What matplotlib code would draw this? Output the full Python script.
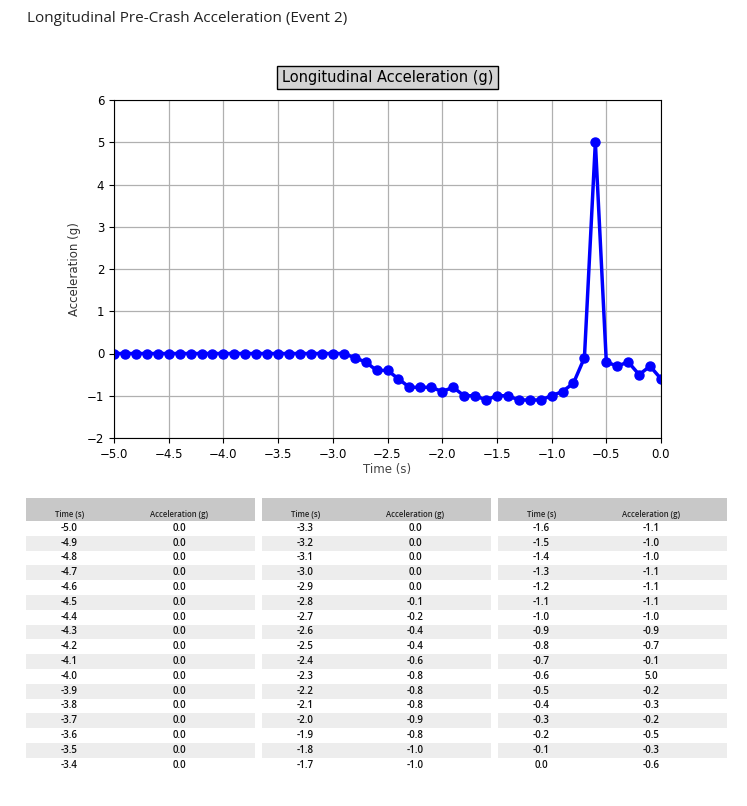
import matplotlib.pyplot as plt
from matplotlib.patches import Rectangle

time_s = [-5.0, -4.9, -4.8, -4.7, -4.6, -4.5, -4.4, -4.3, -4.2, -4.1, -4.0,
          -3.9, -3.8, -3.7, -3.6, -3.5, -3.4, -3.3, -3.2, -3.1, -3.0, -2.9,
          -2.8, -2.7, -2.6, -2.5, -2.4, -2.3, -2.2, -2.1, -2.0, -1.9, -1.8,
          -1.7, -1.6, -1.5, -1.4, -1.3, -1.2, -1.1, -1.0, -0.9, -0.8, -0.7,
          -0.6, -0.5, -0.4, -0.3, -0.2, -0.1, 0.0]
accel_g = [0.0, 0.0, 0.0, 0.0, 0.0, 0.0, 0.0, 0.0, 0.0, 0.0, 0.0,
           0.0, 0.0, 0.0, 0.0, 0.0, 0.0, 0.0, 0.0, 0.0, 0.0, 0.0,
           -0.1, -0.2, -0.4, -0.4, -0.6, -0.8, -0.8, -0.8, -0.9, -0.8, -1.0,
           -1.0, -1.1, -1.0, -1.0, -1.1, -1.1, -1.1, -1.0, -0.9, -0.7, -0.1,
           5.0, -0.2, -0.3, -0.2, -0.5, -0.3, -0.6]
col_headers = ["Time (s)", "Acceleration (g)"]
rows_per_table = 17

W, H = 747, 806
fig = plt.figure(figsize=(W / 100, H / 100), dpi=100)

# page overlay in pixel coords
page = fig.add_axes([0, 0, 1, 1])
page.set_xlim(0, W)
page.set_ylim(H, 0)
page.axis('off')
page.text(27, 18, "Longitudinal Pre-Crash Acceleration (Event 2)", fontsize=11,
          family='Open Sans', color='#222222', va='center', ha='left')

# chart
ax = fig.add_axes([114 / W, 1 - 438 / H, (661 - 114) / W, (438 - 100) / H])
ax.plot(time_s, accel_g, color='blue', linewidth=2.5, marker='o', markersize=6.5)
ax.set_xlim(-5.0, 0.0)
ax.set_ylim(-2, 6)
ax.set_xticks([-5.0, -4.5, -4.0, -3.5, -3.0, -2.5, -2.0, -1.5, -1.0, -0.5, 0.0])
ax.set_yticks(range(-2, 7))
ax.tick_params(labelsize=8.5)
ax.grid(True, color='#b0b0b0', linewidth=0.9)
ax.set_axisbelow(True)
ax.set_xlabel("Time (s)", fontsize=8.5, color='#444444', labelpad=2)
ax.set_ylabel("Acceleration (g)", fontsize=8.5, color='#333333')
ax.set_title("Longitudinal Acceleration (g)", fontsize=10.5, pad=13,
             bbox=dict(facecolor='#d3d3d3', edgecolor='black', boxstyle='square,pad=0.3'))

# tables
tbl_x = [26, 262, 498]
tbl_w = 229
head_top, head_h = 498, 23
row_h = 14.8
for t, x0 in enumerate(tbl_x):
    page.add_patch(Rectangle((x0, head_top), tbl_w, head_h, facecolor='#c8c8c8',
                             edgecolor='none'))
    c1 = x0 + tbl_w * 0.19
    c2 = x0 + tbl_w * 0.67
    hy = head_top + head_h * 0.7
    page.text(c1, hy, col_headers[0], fontsize=5.6, family='Open Sans', weight='semibold',
              ha='center', va='center', color='#222222')
    page.text(c2, hy, col_headers[1], fontsize=5.6, family='Open Sans', weight='semibold',
              ha='center', va='center', color='#222222')
    chunk_t = time_s[t * rows_per_table:(t + 1) * rows_per_table]
    chunk_a = accel_g[t * rows_per_table:(t + 1) * rows_per_table]
    for i, (tv, av) in enumerate(zip(chunk_t, chunk_a)):
        y0 = head_top + head_h + i * row_h
        if i % 2 == 1:
            page.add_patch(Rectangle((x0, y0), tbl_w, row_h, facecolor='#ededed',
                                     edgecolor='none'))
        page.text(c1, y0 + row_h / 2, f"{tv:.1f}", fontsize=7, family='Open Sans',
                  weight='semibold', ha='center', va='center', color='#111111')
        page.text(c2, y0 + row_h / 2, f"{av:.1f}", fontsize=7, family='Open Sans',
                  weight='semibold', ha='center', va='center', color='#111111')

fig.savefig("out.png", dpi=100)
